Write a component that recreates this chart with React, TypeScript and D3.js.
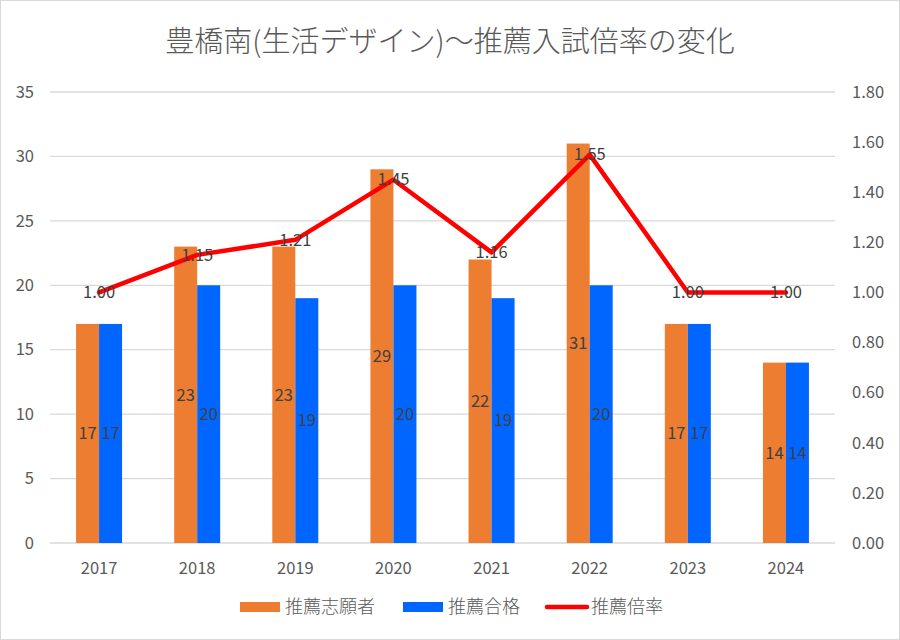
import React, { useEffect, useRef } from 'react';
import * as d3 from 'd3';

const years = ['2017', '2018', '2019', '2020', '2021', '2022', '2023', '2024'];
const applicants = [17, 23, 23, 29, 22, 31, 17, 14];
const passed = [17, 20, 19, 20, 19, 20, 17, 14];
const ratio = [1.0, 1.15, 1.21, 1.45, 1.16, 1.55, 1.0, 1.0];
const leftTicks = [0, 5, 10, 15, 20, 25, 30, 35];
const rightTicks = [0, 0.2, 0.4, 0.6, 0.8, 1.0, 1.2, 1.4, 1.6, 1.8];

const FONT = '"Noto Sans CJK JP", "Noto Sans", sans-serif';
const NUM = 16.5;

const App: React.FC = () => {
    const ref = useRef<HTMLDivElement>(null);

    useEffect(() => {
        document.body.style.margin = '0';
        if (!ref.current) return;
        const width = 900, height = 640;
        const margin = { top: 92, right: 65, bottom: 97, left: 50 };

        const svg = d3.select(ref.current)
            .append('svg')
            .attr('width', width)
            .attr('height', height)
            .style('font-family', FONT);

        svg.append('rect')
            .attr('x', 0.5).attr('y', 0.5)
            .attr('width', width - 1).attr('height', height - 1)
            .attr('fill', 'white')
            .attr('stroke', '#d9d9d9');

        const x = d3.scaleBand()
            .domain(years)
            .range([margin.left, width - margin.right]);
        const yL = d3.scaleLinear().domain([0, 35]).range([height - margin.bottom, margin.top]);
        const yR = d3.scaleLinear().domain([0, 1.8]).range([height - margin.bottom, margin.top]);

        const barW = 23;

        // gridlines
        svg.append('g')
            .selectAll('line')
            .data(leftTicks)
            .enter()
            .append('line')
                .attr('x1', margin.left)
                .attr('x2', width - margin.right)
                .attr('y1', (d) => yL(d))
                .attr('y2', (d) => yL(d))
                .attr('stroke', '#d9d9d9')
                .attr('stroke-width', 1.3);

        // left axis labels
        svg.append('g')
            .selectAll('text')
            .data(leftTicks)
            .enter()
            .append('text')
                .attr('x', 34)
                .attr('y', (d) => yL(d))
                .attr('dy', '0.35em')
                .attr('text-anchor', 'end')
                .attr('font-size', NUM)
                .attr('fill', '#595959')
                .text((d) => d);

        // right axis labels
        svg.append('g')
            .selectAll('text')
            .data(rightTicks)
            .enter()
            .append('text')
                .attr('x', 852)
                .attr('y', (d) => yR(d))
                .attr('dy', '0.35em')
                .attr('text-anchor', 'start')
                .attr('font-size', NUM)
                .attr('fill', '#595959')
                .text((d) => d.toFixed(2));

        // x labels
        svg.append('g')
            .selectAll('text')
            .data(years)
            .enter()
            .append('text')
                .attr('x', (d) => (x(d) as number) + x.bandwidth() / 2)
                .attr('y', 568)
                .attr('dy', '0.35em')
                .attr('text-anchor', 'middle')
                .attr('font-size', NUM)
                .attr('fill', '#595959')
                .text((d) => d);

        const cx = (i: number) => (x(years[i]) as number) + x.bandwidth() / 2;

        // bars
        const series = [
            { values: applicants, color: '#ED7D31', offset: -barW },
            { values: passed, color: '#0066FF', offset: 0 },
        ];
        series.forEach((s) => {
            const g = svg.append('g');
            g.selectAll('rect')
                .data(s.values)
                .enter()
                .append('rect')
                    .attr('x', (_d, i) => cx(i) + s.offset)
                    .attr('y', (d) => yL(d))
                    .attr('width', barW)
                    .attr('height', (d) => yL(0) - yL(d))
                    .attr('fill', s.color);
            g.selectAll('text')
                .data(s.values)
                .enter()
                .append('text')
                    .attr('x', (_d, i) => cx(i) + s.offset + barW / 2)
                    .attr('y', (d) => (yL(d) + yL(0)) / 2)
                    .attr('dy', '0.35em')
                    .attr('text-anchor', 'middle')
                    .attr('font-size', NUM)
                    .attr('fill', '#404040')
                    .text((d) => d);
        });

        // ratio line
        const line = d3.line<number>()
            .x((_d, i) => cx(i))
            .y((d) => yR(d));
        svg.append('path')
            .datum(ratio)
            .attr('d', line)
            .attr('fill', 'none')
            .attr('stroke', '#FF0000')
            .attr('stroke-width', 4.5)
            .attr('stroke-linejoin', 'round')
            .attr('stroke-linecap', 'round');

        svg.append('g')
            .selectAll('text')
            .data(ratio)
            .enter()
            .append('text')
                .attr('x', (_d, i) => cx(i))
                .attr('y', (d) => yR(d))
                .attr('dy', '0.35em')
                .attr('text-anchor', 'middle')
                .attr('font-size', NUM)
                .attr('fill', '#404040')
                .text((d) => d.toFixed(2));

        // title
        svg.append('text')
            .attr('x', 450)
            .attr('y', 42)
            .attr('dy', '0.35em')
            .attr('text-anchor', 'middle')
            .attr('font-size', 29)
            .attr('font-weight', 300)
            .attr('fill', '#595959')
            .text('豊橋南(生活デザイン)～推薦入試倍率の変化');

        // legend
        const lg = svg.append('g');
        const ly = 607;
        const LF = 18;
        lg.append('rect').attr('x', 240).attr('y', ly - 5).attr('width', 40).attr('height', 10).attr('fill', '#ED7D31');
        lg.append('text').attr('x', 285).attr('y', ly).attr('dy', '0.35em').attr('font-size', LF).attr('font-weight', 300).attr('fill', '#595959').text('推薦志願者');
        lg.append('rect').attr('x', 403).attr('y', ly - 5).attr('width', 40).attr('height', 10).attr('fill', '#0066FF');
        lg.append('text').attr('x', 448).attr('y', ly).attr('dy', '0.35em').attr('font-size', LF).attr('font-weight', 300).attr('fill', '#595959').text('推薦合格');
        lg.append('line').attr('x1', 547).attr('x2', 587).attr('y1', ly).attr('y2', ly)
            .attr('stroke', '#FF0000').attr('stroke-width', 4.5).attr('stroke-linecap', 'round');
        lg.append('text').attr('x', 591).attr('y', ly).attr('dy', '0.35em').attr('font-size', LF).attr('font-weight', 300).attr('fill', '#595959').text('推薦倍率');

        return () => {
            svg.remove();
        };
    }, []);

    return <div ref={ref}></div>;
};

export default App;
